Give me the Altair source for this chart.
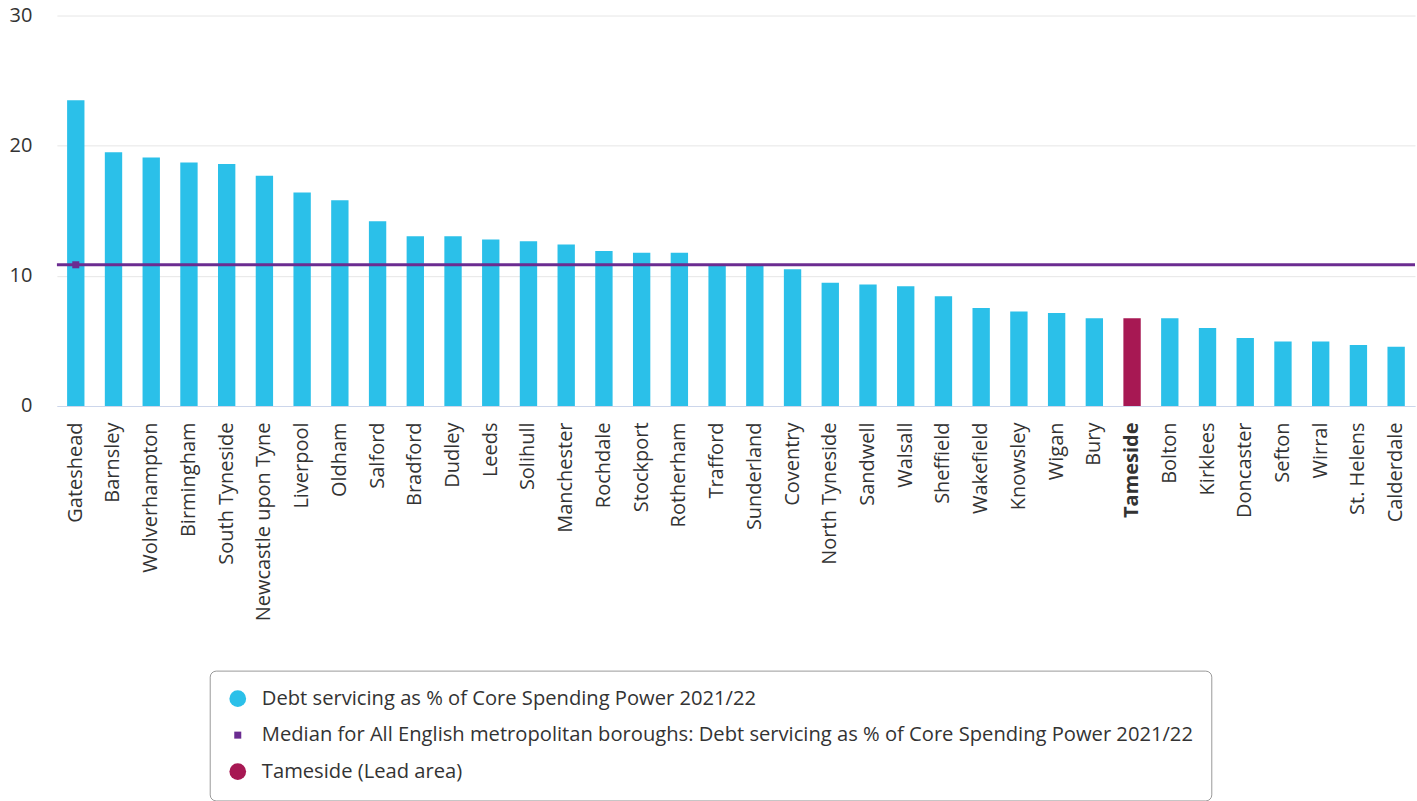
import altair as alt
import pandas as pd

areas = ["Gateshead", "Barnsley", "Wolverhampton", "Birmingham", "South Tyneside",
         "Newcastle upon Tyne", "Liverpool", "Oldham", "Salford", "Bradford", "Dudley",
         "Leeds", "Solihull", "Manchester", "Rochdale", "Stockport", "Rotherham",
         "Trafford", "Sunderland", "Coventry", "North Tyneside", "Sandwell", "Walsall",
         "Sheffield", "Wakefield", "Knowsley", "Wigan", "Bury", "Tameside", "Bolton",
         "Kirklees", "Doncaster", "Sefton", "Wirral", "St. Helens", "Calderdale"]
values = [23.5, 19.5, 19.1, 18.7, 18.6, 17.7, 16.4, 15.8, 14.2, 13.05, 13.05,
          12.8, 12.65, 12.4, 11.9, 11.77, 11.77, 10.9, 10.85, 10.5, 9.46, 9.34, 9.21,
          8.44, 7.52, 7.27, 7.14, 6.75, 6.75, 6.75, 5.99, 5.22, 4.96, 4.96, 4.68, 4.55]
median_value = 10.85
lead_area = "Tameside"

S_DEBT = "Debt servicing as % of Core Spending Power 2021/22"
S_MED = "Median for All English metropolitan boroughs: Debt servicing as % of Core Spending Power 2021/22"
S_LEAD = "Tameside (Lead area)"
series_names = [S_DEBT, S_MED, S_LEAD]
series_colors = ["#2BC0E9", "#6B2C91", "#A71853"]
SMALL_SQUARE = "M-0.42,-0.42H0.42V0.42H-0.42Z"
series_shapes = ["circle", SMALL_SQUARE, "circle"]

df = pd.DataFrame({
    "area": areas,
    "value": values,
    "series": [S_LEAD if a == lead_area else S_DEBT for a in areas],
})
med_df = pd.DataFrame({"area": [areas[0]], "median": [median_value], "series": [S_MED]})

FONT = "Open Sans"

legend_props = dict(
    orient="none", legendX=153, legendY=656, direction="vertical",
    title=None, strokeColor="#999999", cornerRadius=6, padding=18,
    rowPadding=15.5, labelFontSize=20.2, labelColor="#333333", labelFont=FONT,
    labelLimit=1200, labelOffset=14, symbolOffset=0, symbolStrokeWidth=0,
    symbolOpacity=1, symbolSize=280,
)

color_enc = alt.Color("series:N",
                      scale=alt.Scale(domain=series_names, range=series_colors),
                      legend=alt.Legend(**legend_props))

x_enc = alt.X("area:N", sort=areas, title=None,
              scale=alt.Scale(paddingInner=0.54, paddingOuter=0.27),
              axis=alt.Axis(labelAngle=-90, labelFontSize=20, labelColor="#333333",
                            labelFont=FONT, labelPadding=16, labelLimit=400, ticks=False,
                            domainColor="#CCD6EB", domainWidth=1, grid=False,
                            labelFontWeight={"condition": {"test": "datum.value == 'Tameside'",
                                                           "value": "bold"},
                                             "value": "normal"}))

bars = alt.Chart(df).mark_bar().encode(
    x=x_enc,
    y=alt.Y("value:Q", title=None,
            scale=alt.Scale(domain=[0, 30]),
            axis=alt.Axis(values=[0, 10, 20, 30], labelFontSize=20, labelColor="#333333",
                          labelFont=FONT, labelPadding=25, ticks=False, domain=False,
                          gridColor="#E6E6E6", gridWidth=1, minExtent=52, maxExtent=52)),
    color=color_enc,
)

rule = alt.Chart(med_df).mark_rule(color="#6B2C91", strokeWidth=3).encode(
    y=alt.Y("median:Q")
)
marker = alt.Chart(med_df).mark_point(filled=True, size=280, opacity=1).encode(
    x=alt.X("area:N", sort=areas),
    y=alt.Y("median:Q"),
    color=color_enc,
    shape=alt.Shape("series:N",
                    scale=alt.Scale(domain=series_names, range=series_shapes),
                    legend=alt.Legend(**legend_props)),
)

chart = alt.layer(bars, rule, marker).properties(
    width=1360, height=391,
    padding={"left": 5, "top": 5, "right": 0, "bottom": 5},
).configure(font=FONT).configure_view(stroke=None)

chart.save("out.html", embed_options={"renderer": "svg", "actions": False})
